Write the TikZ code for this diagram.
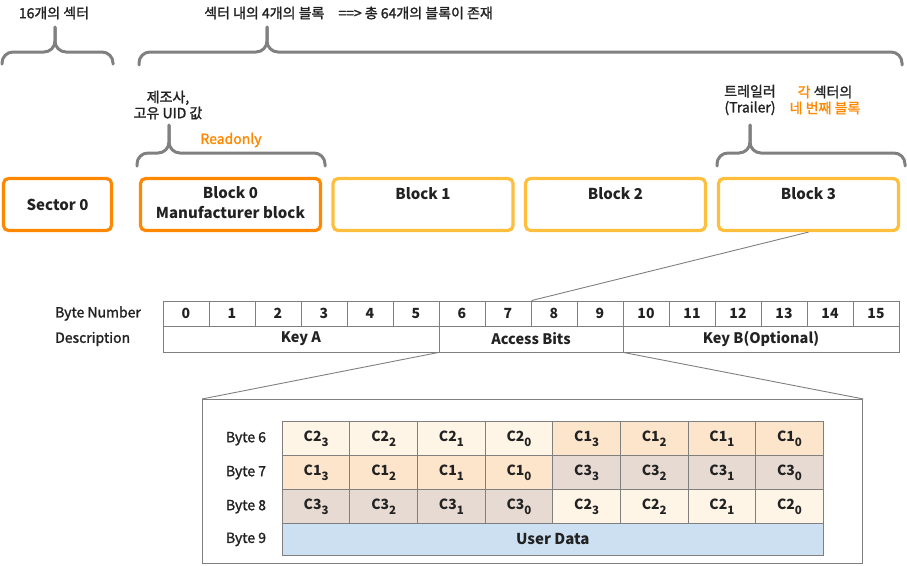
\documentclass[tikz,border=0pt]{standalone}
\usepackage{fontspec}
\setmainfont{Noto Sans CJK KR}
\newfontfamily\medfont{Noto Sans CJK KR}[FakeBold=1.6]
\definecolor{orgA}{HTML}{FF8800}
\definecolor{orgB}{HTML}{FFBE3C}
\definecolor{brc}{HTML}{808080}
\definecolor{txt}{HTML}{222222}
\definecolor{cTwo}{HTML}{FFF5E6}
\definecolor{cOne}{HTML}{FDE5CC}
\definecolor{cThree}{HTML}{E7DAD2}
\definecolor{udata}{HTML}{CCE0F1}
\definecolor{gridc}{HTML}{7F7F7F}
\newcommand\sbs[1]{\raisebox{-0.35em}{\fontsize{11.5}{11.5}\selectfont #1}}
\begin{document}
\begin{tikzpicture}[x=1pt,y=-1pt,
  every node/.style={text=txt, inner sep=0pt},
  toptxt/.style={font=\medfont\fontsize{14}{16}\selectfont},
  brc/.style={draw=brc, line width=3pt, rounded corners=11pt, line cap=round},
  blk/.style={draw=orgB, line width=3.2pt, rounded corners=5pt, minimum height=52pt, minimum width=180pt},
  blktxt/.style={font=\bfseries\fontsize{15}{20}\selectfont, align=center},
  lbl/.style={font=\medfont\fontsize{14}{16}\selectfont, anchor=west},
  cell/.style={draw=gridc, line width=0.9pt, font=\bfseries\fontsize{14}{16}\selectfont, minimum width=46pt, minimum height=25pt},
  desc/.style={cell, font=\bfseries\fontsize{14.5}{16}\selectfont, minimum height=26pt},
  bitcell/.style={draw=gridc, line width=0.9pt, font=\bfseries\fontsize{14}{16}\selectfont, minimum width=67.625pt, minimum height=34pt},
  rowlbl/.style={font=\medfont\fontsize{14}{16}\selectfont},
  conn/.style={draw=gridc, line width=0.9pt}
]
\useasboundingbox (0,0) rectangle (907,565);

% braces
\foreach \xa/\tip/\xb/\yt/\yh/\yb in {2/55/113/27/52/64, 139/267/902/27/52/65, 137/169/325/125/153/166, 717/750/905/125/153/166}{
  \draw[brc] (\xa,\yb) -- (\xa,\yh) -- (\tip,\yh) -- (\tip,\yt);
  \draw[brc] (\xb,\yb) -- (\xb,\yh) -- (\tip,\yh) -- (\tip,\yt);
}

% top texts
\node[toptxt] (t1) at (54,13) {16개의 섹터};
\node[toptxt, anchor=west] (t2) at (204,13) {섹터 내의 4개의 블록\quad ==> 총 64개의 블록이 존재};
\node[toptxt, align=center] (t3) at (168,105) {제조사,\\고유 UID 값};
\node[toptxt, text=orgA] (t4) at (231,140) {Readonly};
\node[toptxt, align=center] (t5) at (750,100) {트레일러\\(Trailer)};
\node[toptxt, align=center] (t6) at (825,100) {{\color{orgA}각} 섹터의\\{\color{orgA}네 번째 블록}};

% blocks
\node[blk, draw=orgA, minimum width=108pt] (s0) at (57.5,204.5) {};
\node[blktxt] (s0t) at (s0.center) {Sector 0};
\node[blk, draw=orgA] (b0) at (230.5,204.5) {};
\node[blktxt] (b0t) at ([yshift=1.5pt]b0.center) {Block 0\\Manufacturer block};
\node[blk] (b1) at (423,204.5) {};
\node[blktxt] (b1t) at ([yshift=11pt]b1.center) {Block 1};
\node[blk] (b2) at (615.5,204.5) {};
\node[blktxt] (b2t) at ([yshift=11pt]b2.center) {Block 2};
\node[blk] (b3) at (808.5,204.5) {};
\node[blktxt] (b3t) at ([yshift=11pt]b3.center) {Block 3};

% byte table
\node[lbl] (bn) at (55,313.5) {Byte Number};
\node[lbl] (ds) at (55,339) {Description};
\foreach \i in {0,...,15}{
  \node[cell] (n\i) at (186+46*\i,313.5) {\i};
}
\node[desc, minimum width=276pt] (ka) at (301,339) {Key A};
\node[desc, minimum width=184pt] (ab) at (531,339) {Access Bits};
\node[desc, minimum width=276pt] (kb) at (761,339) {Key B(Optional)};

\draw[conn] (b3.south) -- (n7.north east);

% zoom box
\node[draw=gridc, line width=1pt, minimum width=660pt, minimum height=164.5pt] (zbox) at (532.7,481.7) {};
\draw[conn] (ab.south west) -- (zbox.north west);
\draw[conn] (ab.south east) -- (zbox.north east);

\foreach \r/\ya/\pa/\fa/\pb/\fb in {6/438.7/2/cTwo/1/cOne, 7/472.7/1/cOne/3/cThree, 8/506.7/3/cThree/2/cTwo}{
  \node[rowlbl] (r\r) at (246,\ya) {Byte \r};
  \foreach \j in {0,...,3}{
    \pgfmathtruncatemacro\s{3-\j}
    \pgfmathtruncatemacro\jj{\j+4}
    \node[bitcell, fill=\fa] (c\r-\j) at (316.1+67.625*\j,\ya) {C\pa\sbs{\s}};
    \node[bitcell, fill=\fb] (c\r-\jj) at (316.1+67.625*\jj,\ya) {C\pb\sbs{\s}};
  }
}
\node[rowlbl] (r9) at (246,539.4) {Byte 9};
\node[bitcell, fill=udata, minimum width=541pt, minimum height=31.3pt, font=\bfseries\fontsize{15}{16}\selectfont] (ud) at (552.8,539.4) {User Data};
\end{tikzpicture}
\end{document}
